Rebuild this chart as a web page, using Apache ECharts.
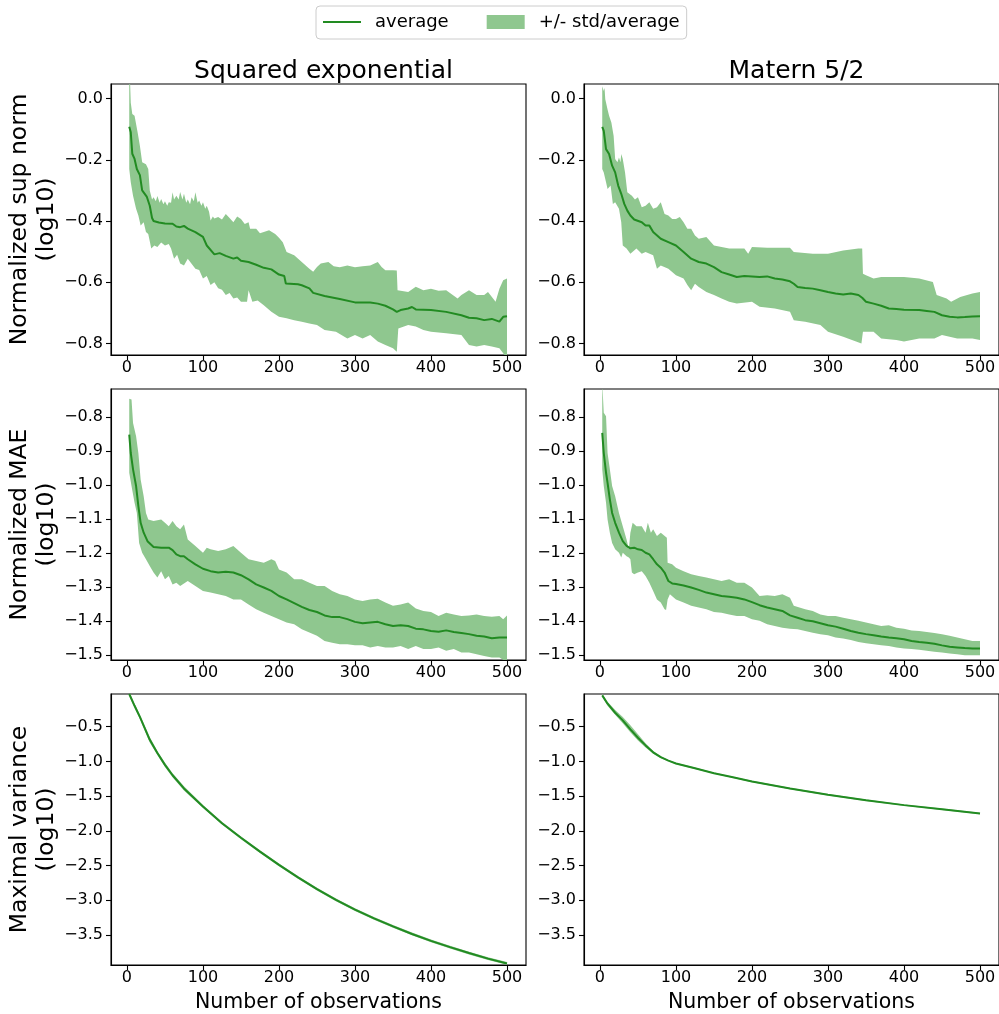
<!DOCTYPE html>
<html>
<head>
<meta charset="utf-8">
<script src="https://cdn.jsdelivr.net/npm/echarts@6/dist/echarts.min.js"></script>
<style>
html,body{margin:0;padding:0;background:#fff;}
#chart{width:999px;height:1014px;}
</style>
</head>
<body>
<div id="chart"></div>
<script>
// ---------------- DATA ----------------
const colTitles = ['Squared exponential', 'Matern 5/2'];
const rowLabels = ['Normalized sup norm\n(log10)', 'Normalized MAE\n(log10)', 'Maximal variance\n(log10)'];
const xLabel = 'Number of observations';
const legendNames = ['average', '+/- std/average'];
const xTicks = [0, 100, 200, 300, 400, 500];
const yTicksSup = [0, -0.2, -0.4, -0.6, -0.8];
const yTicksMae = [-0.8, -0.9, -1.0, -1.1, -1.2, -1.3, -1.4, -1.5];
const yTicksVar = [-0.5, -1.0, -1.5, -2.0, -2.5, -3.0, -3.5];

// Squared exponential, sup norm
const seSupMean = [[3,-0.092],[5,-0.11],[7,-0.18],[10,-0.197],[13,-0.23],[17,-0.25],[20,-0.30],[26,-0.32],[30,-0.35],[33,-0.39],[35,-0.40],[42,-0.405],[50,-0.408],[60,-0.409],[65,-0.418],[70,-0.42],[75,-0.416],[80,-0.425],[90,-0.436],[100,-0.452],[105,-0.48],[115,-0.509],[122,-0.505],[130,-0.514],[140,-0.523],[145,-0.519],[150,-0.53],[160,-0.534],[170,-0.543],[180,-0.553],[190,-0.558],[200,-0.575],[207,-0.58],[209,-0.604],[225,-0.607],[230,-0.61],[240,-0.62],[245,-0.635],[260,-0.645],[280,-0.655],[300,-0.666],[320,-0.666],[330,-0.67],[340,-0.677],[350,-0.689],[355,-0.697],[360,-0.691],[370,-0.686],[375,-0.681],[380,-0.689],[400,-0.691],[420,-0.697],[440,-0.708],[450,-0.716],[460,-0.718],[470,-0.724],[480,-0.72],[490,-0.729],[495,-0.713],[500,-0.711]];
const seSupUpper = [[3,0.06],[4,0.06],[5,-0.013],[7,-0.05],[10,-0.056],[14,-0.11],[17,-0.154],[20,-0.208],[25,-0.214],[28,-0.23],[30,-0.30],[33,-0.33],[35,-0.322],[38,-0.335],[40,-0.318],[43,-0.34],[45,-0.328],[48,-0.345],[50,-0.335],[53,-0.35],[55,-0.339],[58,-0.34],[60,-0.306],[62,-0.33],[65,-0.317],[68,-0.33],[70,-0.305],[73,-0.33],[75,-0.311],[78,-0.34],[80,-0.33],[83,-0.345],[85,-0.322],[88,-0.335],[90,-0.306],[93,-0.34],[95,-0.333],[98,-0.35],[100,-0.339],[103,-0.36],[105,-0.35],[108,-0.37],[110,-0.398],[113,-0.385],[115,-0.392],[120,-0.387],[125,-0.395],[130,-0.377],[135,-0.39],[140,-0.404],[145,-0.385],[150,-0.393],[155,-0.41],[160,-0.404],[162,-0.425],[170,-0.425],[175,-0.44],[180,-0.436],[187,-0.43],[195,-0.442],[200,-0.455],[205,-0.469],[210,-0.501],[220,-0.512],[230,-0.534],[240,-0.556],[245,-0.566],[250,-0.55],[255,-0.539],[265,-0.534],[272,-0.548],[280,-0.551],[290,-0.545],[300,-0.551],[310,-0.548],[320,-0.545],[330,-0.534],[335,-0.55],[340,-0.561],[350,-0.561],[355,-0.562],[356,-0.626],[370,-0.632],[380,-0.615],[390,-0.626],[400,-0.621],[410,-0.628],[420,-0.626],[435,-0.653],[440,-0.642],[450,-0.626],[460,-0.642],[470,-0.642],[475,-0.632],[485,-0.664],[490,-0.621],[495,-0.594],[500,-0.588]];
const seSupLower = [[3,-0.23],[5,-0.273],[8,-0.317],[12,-0.36],[15,-0.382],[18,-0.415],[22,-0.404],[25,-0.436],[28,-0.442],[32,-0.49],[36,-0.48],[40,-0.485],[45,-0.47],[50,-0.48],[55,-0.475],[58,-0.49],[62,-0.523],[66,-0.51],[70,-0.539],[75,-0.545],[80,-0.523],[85,-0.54],[90,-0.556],[95,-0.56],[100,-0.588],[105,-0.58],[110,-0.609],[115,-0.6],[120,-0.62],[125,-0.625],[130,-0.642],[135,-0.635],[140,-0.653],[145,-0.65],[150,-0.664],[158,-0.664],[160,-0.626],[165,-0.664],[172,-0.66],[180,-0.675],[190,-0.697],[200,-0.713],[210,-0.718],[220,-0.724],[230,-0.729],[240,-0.735],[250,-0.74],[260,-0.756],[275,-0.762],[290,-0.784],[300,-0.773],[310,-0.784],[320,-0.773],[330,-0.794],[340,-0.805],[350,-0.816],[355,-0.827],[357,-0.751],[370,-0.74],[380,-0.745],[390,-0.756],[400,-0.762],[420,-0.767],[440,-0.773],[450,-0.805],[460,-0.81],[470,-0.805],[480,-0.81],[490,-0.816],[495,-0.832],[500,-0.85]];

// Matern 5/2, sup norm
const m52SupMean = [[3,-0.092],[5,-0.105],[8,-0.165],[12,-0.181],[16,-0.219],[20,-0.241],[24,-0.284],[28,-0.311],[32,-0.344],[36,-0.366],[40,-0.382],[45,-0.395],[55,-0.404],[60,-0.415],[65,-0.415],[70,-0.436],[80,-0.458],[90,-0.469],[100,-0.48],[110,-0.501],[120,-0.523],[130,-0.534],[140,-0.539],[150,-0.551],[160,-0.567],[170,-0.575],[180,-0.583],[190,-0.58],[200,-0.581],[210,-0.583],[220,-0.581],[230,-0.588],[240,-0.591],[250,-0.597],[255,-0.605],[260,-0.616],[270,-0.619],[280,-0.621],[290,-0.626],[300,-0.632],[310,-0.637],[320,-0.64],[330,-0.637],[340,-0.642],[345,-0.651],[350,-0.664],[360,-0.67],[370,-0.677],[380,-0.686],[390,-0.688],[400,-0.69],[420,-0.691],[430,-0.694],[440,-0.697],[450,-0.708],[460,-0.713],[470,-0.715],[480,-0.714],[490,-0.712],[500,-0.711]];
const m52SupUpper = [[3,0.041],[5,0.025],[6,0.036],[7,-0.002],[10,-0.035],[12,-0.056],[15,-0.078],[18,-0.122],[20,-0.197],[23,-0.208],[25,-0.192],[27,-0.208],[28,-0.181],[30,-0.197],[33,-0.241],[36,-0.306],[42,-0.317],[46,-0.33],[50,-0.322],[55,-0.355],[60,-0.35],[65,-0.339],[70,-0.36],[75,-0.355],[80,-0.339],[85,-0.377],[90,-0.382],[95,-0.393],[100,-0.393],[105,-0.387],[110,-0.404],[115,-0.425],[120,-0.425],[125,-0.447],[130,-0.458],[140,-0.452],[150,-0.48],[160,-0.485],[170,-0.49],[180,-0.49],[190,-0.49],[195,-0.507],[200,-0.485],[220,-0.487],[240,-0.487],[250,-0.487],[255,-0.501],[280,-0.507],[300,-0.507],[320,-0.496],[340,-0.49],[345,-0.49],[346,-0.572],[350,-0.577],[360,-0.588],[370,-0.583],[380,-0.583],[400,-0.583],[420,-0.588],[438,-0.599],[443,-0.642],[456,-0.653],[462,-0.664],[474,-0.648],[490,-0.637],[500,-0.632]];
const m52SupLower = [[3,-0.23],[5,-0.241],[8,-0.273],[10,-0.295],[14,-0.284],[17,-0.344],[20,-0.339],[25,-0.36],[28,-0.404],[30,-0.48],[35,-0.49],[40,-0.507],[48,-0.49],[55,-0.507],[60,-0.501],[70,-0.512],[75,-0.556],[80,-0.545],[90,-0.556],[100,-0.577],[110,-0.588],[115,-0.609],[120,-0.626],[125,-0.605],[130,-0.616],[140,-0.632],[150,-0.642],[160,-0.653],[170,-0.664],[180,-0.67],[200,-0.664],[210,-0.68],[230,-0.686],[250,-0.697],[255,-0.724],[270,-0.729],[290,-0.74],[300,-0.762],[320,-0.778],[344,-0.8],[346,-0.762],[360,-0.762],[370,-0.784],[390,-0.789],[400,-0.794],[420,-0.784],[440,-0.784],[450,-0.773],[470,-0.784],[490,-0.784],[500,-0.789]];

// Squared exponential, MAE
const seMaeMean = [[3,-0.852],[5,-0.906],[8,-0.954],[12,-1.003],[15,-1.062],[18,-1.111],[22,-1.14],[27,-1.165],[35,-1.182],[45,-1.184],[55,-1.184],[60,-1.191],[65,-1.204],[70,-1.209],[75,-1.209],[80,-1.218],[90,-1.233],[100,-1.246],[110,-1.253],[120,-1.257],[130,-1.255],[140,-1.257],[150,-1.265],[160,-1.277],[170,-1.292],[180,-1.301],[190,-1.311],[200,-1.326],[210,-1.336],[220,-1.347],[230,-1.358],[240,-1.367],[250,-1.373],[260,-1.383],[270,-1.388],[280,-1.388],[290,-1.394],[300,-1.402],[310,-1.406],[320,-1.404],[330,-1.402],[340,-1.409],[350,-1.414],[360,-1.412],[370,-1.414],[380,-1.422],[390,-1.424],[400,-1.429],[410,-1.431],[420,-1.427],[430,-1.432],[440,-1.435],[450,-1.438],[460,-1.443],[470,-1.445],[480,-1.45],[490,-1.448],[500,-1.448]];
const seMaeUpper = [[3,-0.747],[6,-0.749],[8,-0.818],[12,-0.857],[15,-0.906],[18,-0.984],[22,-1.033],[25,-1.082],[28,-1.101],[35,-1.106],[45,-1.101],[50,-1.111],[55,-1.121],[60,-1.106],[65,-1.121],[70,-1.13],[75,-1.116],[80,-1.16],[90,-1.179],[100,-1.199],[105,-1.184],[110,-1.189],[120,-1.194],[130,-1.189],[140,-1.179],[150,-1.199],[160,-1.218],[170,-1.223],[180,-1.228],[190,-1.218],[195,-1.223],[200,-1.248],[210,-1.257],[220,-1.277],[230,-1.277],[240,-1.287],[250,-1.297],[260,-1.297],[270,-1.311],[280,-1.321],[290,-1.326],[300,-1.336],[310,-1.341],[320,-1.336],[330,-1.334],[340,-1.345],[350,-1.355],[360,-1.351],[370,-1.345],[380,-1.363],[390,-1.37],[400,-1.373],[410,-1.385],[420,-1.375],[430,-1.38],[440,-1.385],[450,-1.383],[460,-1.38],[470,-1.385],[480,-1.387],[490,-1.385],[495,-1.394],[500,-1.383]];
const seMaeLower = [[3,-0.964],[6,-1.003],[10,-1.052],[13,-1.082],[16,-1.17],[20,-1.199],[25,-1.218],[30,-1.238],[35,-1.257],[40,-1.272],[45,-1.253],[50,-1.277],[55,-1.267],[60,-1.292],[65,-1.287],[70,-1.297],[80,-1.282],[90,-1.297],[100,-1.311],[110,-1.316],[120,-1.321],[130,-1.326],[140,-1.336],[150,-1.336],[160,-1.351],[170,-1.365],[180,-1.375],[190,-1.385],[200,-1.394],[210,-1.404],[220,-1.409],[230,-1.424],[240,-1.433],[250,-1.443],[260,-1.458],[270,-1.463],[280,-1.468],[290,-1.468],[300,-1.471],[310,-1.471],[320,-1.477],[330,-1.473],[340,-1.477],[350,-1.477],[360,-1.473],[370,-1.482],[380,-1.473],[390,-1.482],[400,-1.482],[410,-1.477],[420,-1.487],[430,-1.482],[440,-1.492],[450,-1.492],[460,-1.497],[470,-1.502],[480,-1.507],[490,-1.507],[500,-1.52]];

// Matern 5/2, MAE
const m52MaeMean = [[3,-0.847],[5,-0.906],[8,-0.964],[10,-0.994],[13,-1.042],[16,-1.082],[20,-1.111],[25,-1.14],[30,-1.165],[35,-1.179],[40,-1.186],[45,-1.184],[50,-1.189],[55,-1.191],[60,-1.199],[65,-1.204],[70,-1.218],[75,-1.233],[80,-1.243],[85,-1.257],[88,-1.272],[90,-1.282],[95,-1.289],[100,-1.291],[110,-1.295],[120,-1.301],[130,-1.308],[140,-1.316],[150,-1.321],[160,-1.326],[170,-1.328],[180,-1.331],[190,-1.336],[200,-1.344],[210,-1.353],[220,-1.36],[230,-1.365],[240,-1.37],[250,-1.383],[260,-1.39],[270,-1.397],[280,-1.4],[290,-1.406],[300,-1.412],[310,-1.416],[320,-1.422],[330,-1.429],[340,-1.434],[350,-1.438],[360,-1.441],[370,-1.445],[380,-1.448],[390,-1.45],[400,-1.453],[410,-1.458],[420,-1.461],[430,-1.463],[440,-1.466],[450,-1.471],[460,-1.475],[470,-1.477],[480,-1.479],[490,-1.48],[500,-1.48]];
const m52MaeUpper = [[3,-0.70],[5,-0.788],[8,-0.798],[10,-0.906],[13,-0.954],[16,-1.003],[20,-1.033],[25,-1.082],[30,-1.121],[35,-1.16],[38,-1.189],[40,-1.14],[43,-1.111],[48,-1.121],[55,-1.121],[60,-1.14],[63,-1.111],[67,-1.14],[70,-1.13],[75,-1.15],[80,-1.14],[88,-1.155],[89,-1.228],[95,-1.233],[100,-1.243],[110,-1.253],[120,-1.262],[130,-1.267],[140,-1.272],[150,-1.277],[160,-1.282],[170,-1.277],[180,-1.287],[190,-1.287],[200,-1.301],[210,-1.326],[220,-1.324],[230,-1.326],[240,-1.321],[250,-1.331],[255,-1.355],[270,-1.365],[280,-1.37],[290,-1.38],[300,-1.385],[310,-1.385],[320,-1.39],[330,-1.394],[340,-1.399],[350,-1.404],[360,-1.409],[370,-1.414],[380,-1.412],[390,-1.419],[400,-1.422],[410,-1.427],[420,-1.429],[430,-1.432],[440,-1.435],[450,-1.438],[460,-1.443],[470,-1.448],[480,-1.453],[490,-1.458],[500,-1.458]];
const m52MaeLower = [[3,-0.954],[5,-1.003],[8,-1.052],[10,-1.101],[13,-1.14],[16,-1.17],[20,-1.189],[25,-1.199],[28,-1.213],[30,-1.199],[35,-1.209],[38,-1.213],[40,-1.218],[42,-1.257],[45,-1.262],[50,-1.257],[55,-1.253],[60,-1.267],[65,-1.287],[70,-1.311],[75,-1.336],[80,-1.345],[85,-1.365],[87,-1.367],[89,-1.336],[92,-1.321],[100,-1.336],[110,-1.345],[120,-1.355],[130,-1.36],[140,-1.365],[150,-1.373],[160,-1.375],[170,-1.38],[180,-1.385],[190,-1.385],[200,-1.394],[210,-1.399],[220,-1.409],[230,-1.414],[240,-1.419],[250,-1.422],[260,-1.424],[270,-1.429],[280,-1.434],[290,-1.438],[300,-1.441],[310,-1.448],[320,-1.451],[330,-1.455],[340,-1.461],[350,-1.465],[360,-1.468],[370,-1.471],[380,-1.473],[390,-1.477],[400,-1.48],[410,-1.482],[420,-1.484],[430,-1.487],[440,-1.49],[450,-1.492],[460,-1.495],[470,-1.497],[480,-1.5],[490,-1.5],[500,-1.5]];

// Squared exponential, maximal variance
const seVarMean = [[3,-0.03],[10,-0.2],[17,-0.36],[30,-0.69],[40,-0.88],[50,-1.05],[60,-1.2],[75,-1.39],[100,-1.65],[125,-1.89],[150,-2.1],[175,-2.3],[200,-2.49],[225,-2.67],[250,-2.84],[275,-2.995],[300,-3.135],[325,-3.26],[350,-3.375],[375,-3.485],[400,-3.585],[425,-3.675],[450,-3.76],[475,-3.84],[500,-3.91]];
const seVarUpper = [[3,0.0],[10,-0.17],[17,-0.33],[30,-0.65],[40,-0.85],[50,-1.02],[60,-1.17],[75,-1.36],[100,-1.63],[125,-1.87],[150,-2.08],[175,-2.28],[200,-2.47],[225,-2.65],[250,-2.82],[275,-2.975],[300,-3.115],[325,-3.24],[350,-3.355],[375,-3.465],[400,-3.565],[425,-3.655],[450,-3.74],[475,-3.82],[500,-3.89]];
const seVarLower = [[3,-0.06],[10,-0.23],[17,-0.39],[30,-0.73],[40,-0.91],[50,-1.08],[60,-1.23],[75,-1.42],[100,-1.67],[125,-1.91],[150,-2.12],[175,-2.32],[200,-2.51],[225,-2.69],[250,-2.86],[275,-3.015],[300,-3.155],[325,-3.28],[350,-3.395],[375,-3.505],[400,-3.605],[425,-3.695],[450,-3.78],[475,-3.86],[500,-3.93]];

// Matern 5/2, maximal variance
const m52VarMean = [[3,-0.05],[10,-0.17],[20,-0.3],[30,-0.41],[40,-0.54],[50,-0.66],[60,-0.77],[70,-0.87],[80,-0.94],[90,-0.99],[100,-1.03],[125,-1.1],[150,-1.17],[175,-1.23],[200,-1.29],[250,-1.39],[300,-1.48],[350,-1.56],[400,-1.63],[450,-1.69],[500,-1.75]];
const m52VarUpper = [[3,-0.03],[10,-0.14],[20,-0.26],[30,-0.36],[40,-0.48],[50,-0.61],[60,-0.74],[70,-0.85],[80,-0.925],[90,-0.98],[100,-1.02],[125,-1.09],[150,-1.16],[175,-1.22],[200,-1.28],[250,-1.38],[300,-1.47],[350,-1.55],[400,-1.62],[450,-1.68],[500,-1.74]];
const m52VarLower = [[3,-0.07],[10,-0.2],[20,-0.33],[30,-0.45],[40,-0.58],[50,-0.7],[60,-0.8],[70,-0.89],[80,-0.955],[90,-1.0],[100,-1.04],[125,-1.11],[150,-1.18],[175,-1.24],[200,-1.3],[250,-1.4],[300,-1.49],[350,-1.57],[400,-1.64],[450,-1.7],[500,-1.76]];

// ---------------- LAYOUT / STYLE ----------------
const FONT = 'DejaVu Sans';
const LINE_COLOR = '#228B22';
const BAND_COLOR = '#8fc78f';
const colLeft = [111, 584];
const colWidth = [415, 416];
const rowTop = [84, 389, 694];
const rowHeight = 271;
const xRange = [-21, 525];
const yRanges = [[-0.838, 0.048], [-1.514, -0.718], [-3.932, -0.03]];
const yTickSets = [yTicksSup, yTicksMae, yTicksVar];

const panels = [
  {mean: seSupMean, upper: seSupUpper, lower: seSupLower},
  {mean: m52SupMean, upper: m52SupUpper, lower: m52SupLower},
  {mean: seMaeMean, upper: seMaeUpper, lower: seMaeLower},
  {mean: m52MaeMean, upper: m52MaeUpper, lower: m52MaeLower},
  {mean: seVarMean, upper: seVarUpper, lower: seVarLower},
  {mean: m52VarMean, upper: m52VarUpper, lower: m52VarLower}
];

function fmtY(v) {
  const s = Math.abs(v).toFixed(1);
  return (v < -1e-9 ? '\u2212' : '') + s;
}

const grids = [], xAxes = [], yAxes = [], series = [];
for (let i = 0; i < 6; i++) {
  const r = Math.floor(i / 2), c = i % 2;
  grids.push({
    left: colLeft[c], top: rowTop[r], width: colWidth[c], height: rowHeight,
    show: true, borderColor: '#000', borderWidth: 1.1, backgroundColor: 'transparent', containLabel: false
  });
  xAxes.push({
    type: 'value', gridIndex: i, min: xRange[0], max: xRange[1],
    axisLine: {show: true, onZero: false, lineStyle: {color: '#000', width: 1.1}},
    axisTick: {show: true, inside: false, length: 5, customValues: xTicks, lineStyle: {color: '#000', width: 1.1}},
    axisLabel: {show: true, customValues: xTicks, margin: 5, fontSize: 16, fontFamily: FONT, color: '#000'},
    splitLine: {show: false},
    name: r === 2 ? xLabel : '', nameLocation: 'middle', nameGap: 27,
    nameTextStyle: {fontSize: 20.5, fontFamily: FONT, color: '#000'}
  });
  yAxes.push({
    type: 'value', gridIndex: i, min: yRanges[r][0], max: yRanges[r][1],
    axisLine: {show: true, onZero: false, lineStyle: {color: '#000', width: 1.1}},
    axisTick: {show: true, inside: false, length: 5, customValues: yTickSets[r], lineStyle: {color: '#000', width: 1.1}},
    axisLabel: {show: true, customValues: yTickSets[r], margin: 8, fontSize: 16, fontFamily: FONT, color: '#000', formatter: fmtY},
    splitLine: {show: false},
    name: c === 0 ? rowLabels[r] : '', nameLocation: 'middle', nameGap: 48, nameRotate: 90,
    nameTextStyle: {fontSize: 23.5, lineHeight: 27, fontFamily: FONT, color: '#000', align: 'center'}
  });
  const p = panels[i];
  series.push({
    type: 'custom', name: legendNames[1], coordinateSystem: 'cartesian2d',
    xAxisIndex: i, yAxisIndex: i, silent: true, z: 2,
    itemStyle: {color: BAND_COLOR},
    data: p.upper,
    renderItem: function (params, api) {
      if (params.dataIndex !== 0) return null;
      const pts = p.upper.map(function (d) { return api.coord(d); })
        .concat(p.lower.slice().reverse().map(function (d) { return api.coord(d); }));
      const cs = params.coordSys;
      return {
        type: 'polygon', shape: {points: pts}, style: {fill: BAND_COLOR, stroke: null},
        clipPath: {type: 'rect', shape: {x: cs.x, y: cs.y, width: cs.width, height: cs.height}}
      };
    }
  });
  series.push({
    type: 'line', name: legendNames[0], xAxisIndex: i, yAxisIndex: i, z: 3,
    data: p.mean, symbol: 'none', showSymbol: false, clip: true,
    lineStyle: {color: LINE_COLOR, width: 2}, itemStyle: {color: LINE_COLOR}
  });
}

const titles = colTitles.map(function (t, c) {
  return {
    text: t, left: colLeft[c] + 207.5, top: 54, textAlign: 'center',
    textStyle: {fontSize: 25, fontWeight: 'normal', fontFamily: FONT, color: '#000'}
  };
});

const chart = echarts.init(document.getElementById('chart'), null, {renderer: 'canvas'});
chart.setOption({
  animation: false,
  backgroundColor: '#fff',
  title: titles,
  legend: {
    left: 316, top: 6, orient: 'horizontal', padding: [7, 7, 8, 7],
    itemWidth: 38, itemHeight: 14, itemGap: 38,
    borderColor: '#cccccc', borderWidth: 1, borderRadius: 4, selectedMode: false,
    textStyle: {fontSize: 18, fontFamily: FONT, color: '#000', padding: [0, 0, 0, 9]},
    data: [
      {name: legendNames[0], icon: 'path://M0,0 L0.01,0 L0.01,0.01 Z M0,6 L38,6 L38,8 L0,8 Z M0,13.99 L0.01,13.99 L0.01,14 Z'},
      {name: legendNames[1], icon: 'rect'}
    ]
  },
  grid: grids, xAxis: xAxes, yAxis: yAxes, series: series
});
</script>
</body>
</html>
